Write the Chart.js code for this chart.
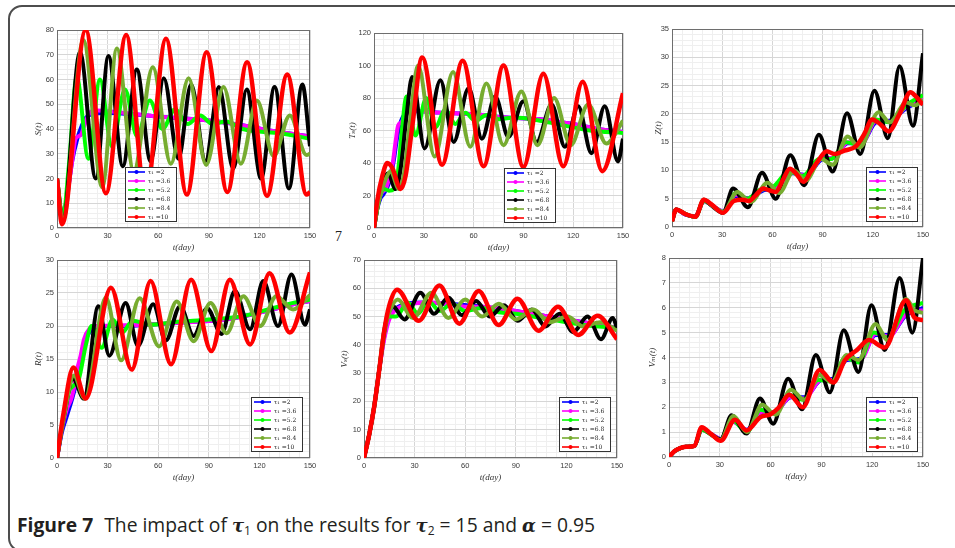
<!DOCTYPE html>
<html>
<head>
<meta charset="utf-8">
<script src="https://cdn.jsdelivr.net/npm/chart.js@4.4.1/dist/chart.umd.min.js"></script>
<style>
  body { margin: 0; background: #fff; width: 955px; height: 548px; overflow: hidden; position: relative; }
  .frame { position: absolute; left: 8px; top: 5px; width: 1000px; height: 547px; border: 2px solid #4d4d4d; border-radius: 14px; box-sizing: border-box; }
  canvas { position: absolute; }
  .pagenum { position: absolute; left: 335px; top: 229px; font: 14px "Liberation Serif", serif; color: #222; }
  .caption { position: absolute; left: 17px; top: 511px; font: 19.3px "Open Sans", sans-serif; color: #231f20; white-space: nowrap; }
  .caption b { font-weight: 700; margin-right: 6px; }
  .caption i { font-family: "DejaVu Serif", serif; font-weight: 700; font-style: italic; font-size: 18px; }
  .caption sub { font-size: 12px; vertical-align: -3px; line-height: 0; }
</style>
</head>
<body>
<div class="frame"></div>
<div class="pagenum">7</div>
<div class="caption"><b>Figure 7</b> The impact of <i>τ</i><sub>1</sub> on the results for <i>τ</i><sub>2</sub> = 15 and <i>α</i> = 0.95</div>
<script>
// series labels (tau_1 values) and colours, same order in every panel
const TAU_LABELS = ["2", "3.6", "5.2", "6.8", "8.4", "10"];
const COLORS = ["#0000ff", "#ff00ff", "#00ff00", "#000000", "#77ac30", "#ff0000"];

// tick labels
const X_TICKS = [0, 30, 60, 90, 120, 150];
const S_TICKS = [0, 10, 20, 30, 40, 50, 60, 70, 80];
const T_TICKS = [0, 20, 40, 60, 80, 100, 120];
const Z_TICKS = [0, 5, 10, 15, 20, 25, 30, 35];
const R_TICKS = [0, 5, 10, 15, 20, 25, 30];
const VS_TICKS = [0, 10, 20, 30, 40, 50, 60, 70];
const VM_TICKS = [0, 1, 2, 3, 4, 5, 6, 7, 8];

// ---- S(t) : [t, value] ----
const S_tau2 = [[0,20],[1.5,10],[3.5,4.5],[6,13],[9,27],[12,36],[14.5,41],[17,44.5],[21,46],[30,46.5],[45,46],[60,45],[80,44],[95,43],[110,41.5],[125,39.5],[140,38],[150,37]];
const S_tau3_6 = [[0,20],[1.5,10],[3.5,4],[6,13],[9,27],[11,36],[14,37.5],[17,43],[20,47],[24,47.5],[40,46.5],[60,45],[80,44],[95,43],[110,41.5],[125,39.5],[140,38],[150,37]];
const S_tau5_2 = [[0,20],[3.5,4],[7,25],[11.7,61],[18.6,28],[25.5,60],[32.5,33],[40.3,56],[47.5,37],[55,51.5],[62.5,40],[70,48],[77.5,42],[85,45.5],[92,42],[100,43],[110,40],[120,39],[135,38],[150,36]];
const S_tau6_8 = [[0,20],[3.5,3],[13.6,71],[23,20],[30.5,69.5],[39,25],[47.3,64],[55.5,27],[63.3,60.5],[72,28],[79.5,58],[88,27],[96,57],[104.5,24],[112.5,56],[121,20],[129,57],[137.5,16],[145.5,58],[150,33]];
const S_tau8_4 = [[0,20],[3.5,3],[15.6,76],[26.8,16.5],[35.5,72.5],[45.5,23],[56.8,65],[67.5,26],[78,60.5],[88.5,25.5],[98.7,57],[109,26],[118.5,51.5],[128.5,29],[138,45.5],[148,29.5],[150,30]];
const S_tau10 = [[0,20],[3,1.5],[17,80],[29,14],[41,78],[52.5,13],[64.6,76.5],[77,13.5],[88.7,71],[101,14.5],[112.7,67],[124.5,13],[136.5,62],[148,13.5],[150,14.5]];

// ---- T_s(t) ----
const T_tau2 = [[0,0],[2,12],[4,18.5],[5.5,20.5],[8,25],[10,31],[12,42],[14,56],[16,65],[19,70.5],[24,72],[40,71],[60,70],[80,68],[100,67],[120,64],[135,61],[150,59]];
const T_tau3_6 = [[0,0],[2,13],[4.5,21.5],[7,24],[9,30],[11,38],[13,53],[14.5,63],[16.5,65],[19,70],[23,72],[40,71],[60,70],[80,68],[100,67],[120,64],[135,61],[150,59]];
const T_tau5_2 = [[0,0],[3,17],[6,24],[9,23],[12,24],[14.5,35],[17,62],[19.5,81],[25,57],[31.5,80],[37,62],[43,73],[49,64],[55,71],[61,66],[68,69.5],[75,67],[85,68],[100,66],[115,63],[130,60],[150,58.5]];
const T_tau6_8 = [[0,0],[3,18],[6.5,31],[8.5,33.5],[13,24],[16,36],[19.5,68],[23,93],[30.5,49],[40,91],[48,53],[57,86],[65,55],[73,81],[81,56],[90,78],[98,53],[107,76],[115,50],[123,75],[131,46],[139,75],[147,41],[150,55]];
const T_tau8_4 = [[0,0],[3,17],[7,30],[10,35],[15,24],[18,33],[22,68],[26.5,100],[36.5,44],[47.6,96],[58,50],[67.7,89],[78,51],[88.8,84],[98.5,51],[108.5,80],[118.5,51],[129,76],[140,52],[150,66]];
const T_tau10 = [[0,0],[2,17],[5,32],[8,40],[11,37],[16,24],[19,32],[23,62],[29,105],[41,39],[53.4,103],[66,38],[78,100],[90,37.5],[102,95],[114,38],[125.7,90],[137.5,35],[150,83]];

// ---- Z(t) ----
const Z_tau2 = [[0,1],[2.5,3.1],[8,2.2],[14,1.9],[19,4.6],[24,3.8],[30.5,2.8],[38,5.5],[45,5.1],[55,6.5],[62,7],[72,9.5],[80,9.2],[90,12],[97,12.3],[105,14.8],[113,14.8],[122,18.5],[130,18.8],[140,21],[150,22.5]];
const Z_tau3_6 = [[0,1],[2.5,3.1],[8,2.2],[14,1.9],[19,4.6],[24,3.8],[30.5,2.8],[38,5.7],[45,5],[55,6.7],[62,6.8],[72,9.7],[80,9],[90,12.2],[97,12.2],[105,15],[113,14.6],[122,18.8],[130,18.6],[140,21.3],[150,22.8]];
const Z_tau5_2 = [[0,1],[2.5,3.1],[8,2.3],[14,1.8],[19,4.6],[24,3.8],[30.5,2.7],[38,6],[45,5],[52,6.5],[60,7],[70,9.8],[78,9],[88,12],[95,12],[104,15],[112,14.5],[122,19],[130,18.5],[140,21.5],[150,23.3]];
const Z_tau6_8 = [[0,1],[2.5,3.1],[8,2.3],[14,1.8],[19,4.8],[24,3.7],[30.5,2.5],[36.5,6.8],[45.4,3.5],[53.8,9.6],[62,5],[70.7,12.7],[79,7.4],[87.8,16.3],[96,9.8],[104.6,20.1],[112.5,12.9],[121,24.1],[129,15.7],[136,28.4],[144,17.9],[150,30.7]];
const Z_tau8_4 = [[0,1],[2.5,3.1],[8,2.3],[14,1.8],[19,4.8],[24,3.8],[30.5,2.6],[39,6.2],[47,4.4],[57,7.8],[64,6],[73,10],[80,8.2],[89,12],[96,11],[105,16],[112,14],[123.5,20.3],[130,18.5],[140,22],[145,21.5],[150,22.5]];
const Z_tau10 = [[0,1],[2.5,3.1],[8,2.3],[14,1.8],[19,4.8],[24,3.9],[30.5,2.5],[37,4.6],[42,4.8],[46,4.6],[50,5.6],[54.5,6.8],[58,6.5],[62,6.2],[66,8.2],[70.5,10.3],[74,9.5],[78.5,8],[83,9.8],[88,12],[92.5,13.4],[97,12.9],[103,13.5],[110,14.3],[115,16.5],[119.5,19],[124,18.3],[129.5,16.9],[136,20],[142.5,23.8],[146,23],[150,21.6]];

// ---- R(t) ----
const R_tau2 = [[0,0],[3,4],[6,6.5],[9,9],[12,12],[15,16],[18,18.5],[22,19.7],[28,20],[40,20],[60,20.3],[80,20.6],[100,21],[120,22],[135,23],[150,23.8]];
const R_tau3_6 = [[0,0],[3,4.5],[6,7.5],[8.5,9],[10,10.5],[12,13.5],[14,15.5],[16,18],[19,19.5],[24,20],[40,20.1],[60,20.3],[80,20.6],[100,21],[120,22],[135,23],[150,23.8]];
const R_tau5_2 = [[0,0],[3,5],[7,10],[10,11],[13,12],[17,17],[20.5,20],[26.5,16.7],[33,21],[38.5,19],[45,20.8],[55,20.2],[70,20.6],[90,21],[110,21.5],[125,22.5],[140,23.5],[150,24]];
const R_tau6_8 = [[0,0],[4,6],[9.5,12],[16,9],[24.5,23],[31,15.5],[40.7,23.5],[48,17],[57,23.3],[64.5,17.8],[73,23],[81,18.5],[89,22.7],[97.5,18.8],[105.5,25.3],[114.5,19.5],[122.3,26.8],[131,20],[139,27.8],[147,20.2],[150,22.5]];
const R_tau8_4 = [[0,0],[4,6],[10,12.5],[16.5,9],[29,24.3],[38,14.8],[49,24.2],[60.5,16.9],[71,23.7],[81,17.7],[91,23.5],[100.5,18.9],[110.5,24.5],[120.5,20],[130,24.5],[140,22.5],[150,24.7]];
const R_tau10 = [[0,0],[4,7],[9.7,13.7],[17,9],[32,25.8],[44.3,13.4],[55.5,26.8],[67.6,14.2],[79.5,27],[91.5,16.2],[102.5,27],[114.5,17.2],[126,28],[138,19],[150,28.1]];

// ---- V_s(t) ----
const VS_tau2 = [[0,0],[3,8],[6,18],[9,31],[12,43],[15,50],[18,52.5],[25,54.5],[35,55],[50,54.5],[70,53.5],[90,52],[110,50],[130,48],[150,46]];
const VS_tau3_6 = [[0,0],[3,8],[6,18],[9,31],[12,42],[15,49],[18,52],[25,54],[35,55],[50,54.5],[60,53.5],[70,53.5],[90,52],[110,50],[130,48],[150,46]];
const VS_tau5_2 = [[0,0],[3,8],[6,18],[9,31],[12,44],[15,50],[19,50],[26,55],[32,51],[38,55.5],[45,52],[52,54.5],[60,52],[70,53],[80,51.5],[90,51],[100,50],[110,49],[130,47],[150,46]];
const VS_tau6_8 = [[0,0],[3,8],[6,18],[9,31],[12,45],[16.5,54],[24,49],[33.4,58.4],[41.5,51],[50,56.7],[58,50.5],[66.5,55.5],[74.5,50],[83,54],[91,48.5],[99.5,52.5],[107.5,46.5],[116,51],[124,44.5],[132.5,50],[140.5,42],[147.5,49.5],[150,46]];
const VS_tau8_4 = [[0,0],[3,8],[6,18],[9,31],[12,45],[15,51.5],[20,56],[29,49.5],[40,58.4],[50,49.5],[60,56],[70,50],[80,54.5],[90,49],[100.5,52.5],[110,48],[120.5,50],[130,46.5],[140,48],[150,45]];
const VS_tau10 = [[0,0],[3,8],[6,18],[9,31],[12,45],[15,54],[19.6,59.5],[32.5,48.5],[44.7,61],[56.5,47.5],[68,59],[79.8,47],[91,56.3],[103.5,45],[115,53.5],[127,43.5],[138.5,50.3],[150,42]];

// ---- V_m(t) ----
const VM_tau2 = [[0,0],[3,0.22],[6,0.34],[10,0.41],[15,0.45],[19.3,1.1],[25,0.92],[30.5,0.72],[37,1.45],[46,1.1],[55,1.8],[62,1.8],[72,2.4],[80,2.4],[90,3.1],[97,3.15],[105,3.9],[113,3.95],[122,4.9],[130,4.9],[140,5.7],[150,6]];
const VM_tau3_6 = [[0,0],[3,0.22],[6,0.34],[10,0.41],[15,0.45],[19.3,1.1],[25,0.92],[30.5,0.72],[37,1.45],[46,1.08],[55,1.82],[62,1.78],[72,2.42],[80,2.35],[90,3.12],[97,3.1],[105,3.95],[113,3.9],[122,4.95],[130,4.85],[140,5.75],[150,5.9]];
const VM_tau5_2 = [[0,0],[3,0.22],[6,0.34],[10,0.41],[15,0.45],[19.3,1.1],[25,0.9],[30.5,0.7],[37,1.5],[46,1],[54,1.9],[62,1.75],[71,2.5],[79,2.3],[88,3.1],[96,3.05],[104,4],[112,3.8],[121,5],[129,4.8],[139,5.9],[150,6.2]];
const VM_tau6_8 = [[0,0],[3,0.22],[6,0.34],[10,0.41],[15,0.45],[19.3,1.15],[25,0.9],[30.5,0.7],[37,1.68],[45.8,0.94],[53.7,2.35],[61.5,1.34],[70.4,3.15],[78.6,1.92],[86.7,4.1],[95,2.6],[103.2,5.1],[111.9,3.42],[119.5,6.1],[127.4,4.3],[136.2,7.2],[143.7,5],[150,8]];
const VM_tau8_4 = [[0,0],[3,0.22],[6,0.34],[10,0.41],[15,0.45],[19.3,1.15],[25,0.9],[30.5,0.68],[38,1.65],[46,1],[55,2.1],[63,1.7],[72,2.7],[80,2.3],[89,3.3],[96,3],[105,4.1],[112,3.9],[122,5.35],[129,4.7],[140,6.35],[145,5.9],[150,5.8]];
const VM_tau10 = [[0,0],[3,0.22],[6,0.34],[10,0.41],[15,0.45],[19.3,1.2],[25,0.92],[30.5,0.65],[39,1.5],[45.8,1.07],[54,1.6],[60,1.72],[65,2],[71,2.5],[79,2],[89,3.5],[97,3],[104,3.9],[111,4.3],[118,4.7],[127.4,4.4],[140,6.3],[145,5.6],[150,5.5]];

// panels: data + placement (plot box in page px, y-title gap, legend offset inside plot)
const PANELS = [
  { yTitle: "S(t)",  yTicks: S_TICKS,  yMinor: 2,   series: [S_tau2, S_tau3_6, S_tau5_2, S_tau6_8, S_tau8_4, S_tau10],
    plot: [57, 30, 310, 228],  titleGap: 19, legend: [68, 137] },
  { yTitle: "Tₛ(t)", yTicks: T_TICKS,  yMinor: 4,   series: [T_tau2, T_tau3_6, T_tau5_2, T_tau6_8, T_tau8_4, T_tau10],
    plot: [374, 33, 623, 228], titleGap: 22, legend: [130, 135] },
  { yTitle: "Z(t)",  yTicks: Z_TICKS,  yMinor: 1,   series: [Z_tau2, Z_tau3_6, Z_tau5_2, Z_tau6_8, Z_tau8_4, Z_tau10],
    plot: [672, 29, 923, 227], titleGap: 14, legend: [194, 138] },
  { yTitle: "R(t)",  yTicks: R_TICKS,  yMinor: 1,   series: [R_tau2, R_tau3_6, R_tau5_2, R_tau6_8, R_tau8_4, R_tau10],
    plot: [57, 260, 310, 458], titleGap: 19, legend: [194, 137] },
  { yTitle: "Vₛ(t)", yTicks: VS_TICKS, yMinor: 2,   series: [VS_tau2, VS_tau3_6, VS_tau5_2, VS_tau6_8, VS_tau8_4, VS_tau10],
    plot: [364, 260, 617, 458], titleGap: 20, legend: [195, 137] },
  { yTitle: "Vₘ(t)", yTicks: VM_TICKS, yMinor: 0.2, series: [VM_tau2, VM_tau3_6, VM_tau5_2, VM_tau6_8, VM_tau8_4, VM_tau10],
    plot: [669, 258, 923, 457], titleGap: 17, legend: [197, 139] }
];

const TICK_FONT = { family: "Liberation Sans", size: 7.5 };
const TITLE_FONT = { family: "Liberation Serif, DejaVu Serif, serif", style: "italic", size: 9 };
const isMajor = (v, ticks) => ticks.some(t => Math.abs(t - v) < 1e-6);

// box around the plot area like matlab's axes box
const axesBox = {
  id: "axesBox",
  beforeDatasetsDraw(chart) {
    const { ctx, chartArea: a } = chart;
    ctx.save();
    ctx.strokeStyle = "#6e6e6e";
    ctx.lineWidth = 1;
    ctx.strokeRect(Math.round(a.left) + 0.5, Math.round(a.top) + 0.5, Math.round(a.right - a.left) - 1, Math.round(a.bottom - a.top) - 1);
    ctx.restore();
  }
};

// legend drawn inside the axes
const boxLegend = {
  id: "boxLegend",
  afterDatasetsDraw(chart, args, opts) {
    const { ctx, chartArea } = chart;
    const x = Math.round(chartArea.left + opts.dx), y = Math.round(chartArea.top + opts.dy);
    const w = 51, h = 54, rowH = h / 6;
    ctx.save();
    ctx.fillStyle = "#fff";
    ctx.fillRect(x, y, w, h);
    ctx.strokeStyle = "#333";
    ctx.lineWidth = 1;
    ctx.strokeRect(x + 0.5, y + 0.5, w, h);
    ctx.font = '6px "DejaVu Serif", serif';
    ctx.textBaseline = "middle";
    // legend rows go in tau order, datasets are stored in the same order
    chart.data.datasets.forEach((ds, i) => {
      const cy = y + rowH * (i + 0.5) + 0.5;
      ctx.strokeStyle = ds.borderColor;
      ctx.lineWidth = 1.6;
      ctx.beginPath(); ctx.moveTo(x + 3, cy); ctx.lineTo(x + 20, cy); ctx.stroke();
      ctx.fillStyle = ds.borderColor;
      ctx.beginPath(); ctx.arc(x + 11.5, cy, 2, 0, Math.PI * 2); ctx.fill();
      ctx.fillStyle = "#222";
      ctx.fillText(ds.label, x + 23, cy);
    });
    ctx.restore();
  }
};

function makePanel(p) {
  const [L, T, R, B] = p.plot;
  const axisW = Math.round(p.titleGap + 5.4);
  const padTop = 8, padRight = 12, axisH = 25;
  const cv = document.createElement("canvas");
  cv.width = (R - L) + axisW + padRight;
  cv.height = (B - T) + padTop + axisH;
  cv.style.left = (L - axisW) + "px";
  cv.style.top = (T - padTop) + "px";
  document.body.appendChild(cv);

  const yTicks = p.yTicks;
  const datasets = p.series.map((pts, i) => ({
    label: "τ₁ =" + TAU_LABELS[i],
    data: pts.map(([x, y]) => ({ x, y })),
    borderColor: COLORS[i],
    backgroundColor: COLORS[i],
    borderWidth: i === 5 ? 4.5 : 4,
    pointRadius: 0,
    fill: false,
    cubicInterpolationMode: "monotone",
    order: 5 - i // red drawn last, on top
  }));

  new Chart(cv, {
    type: "line",
    data: { datasets },
    options: {
      animation: false,
      responsive: false,
      devicePixelRatio: 1,
      layout: { padding: { top: padTop, right: padRight, left: 0, bottom: 0 } },
      plugins: { legend: { display: false }, tooltip: { enabled: false }, boxLegend: { dx: p.legend[0], dy: p.legend[1] } },
      scales: {
        x: {
          type: "linear", min: X_TICKS[0], max: X_TICKS[X_TICKS.length - 1],
          ticks: {
            stepSize: 6, autoSkip: false, maxRotation: 0, padding: 3, color: "#3a3a3a", font: TICK_FONT,
            callback: v => isMajor(v, X_TICKS) ? String(v) : ""
          },
          grid: { drawTicks: false, color: c => isMajor(c.tick.value, X_TICKS) ? "#d6d6d6" : "#efefef" },
          border: { display: false },
          title: { display: true, text: "t(day)", font: TITLE_FONT, color: "#333", padding: 0 },
          afterFit: s => { s.height = axisH; }
        },
        y: {
          type: "linear", min: yTicks[0], max: yTicks[yTicks.length - 1],
          ticks: {
            stepSize: p.yMinor, autoSkip: false, padding: 3, color: "#3a3a3a", font: TICK_FONT,
            callback: v => isMajor(v, yTicks) ? String(Math.round(v * 100) / 100) : ""
          },
          grid: { drawTicks: false, color: c => isMajor(c.tick.value, yTicks) ? "#d6d6d6" : "#efefef" },
          border: { display: false },
          title: { display: true, text: p.yTitle, font: TITLE_FONT, color: "#333", padding: 0 },
          afterFit: s => { s.width = axisW; }
        }
      }
    },
    plugins: [axesBox, boxLegend]
  });
}

PANELS.forEach(makePanel);
</script>
</body>
</html>
